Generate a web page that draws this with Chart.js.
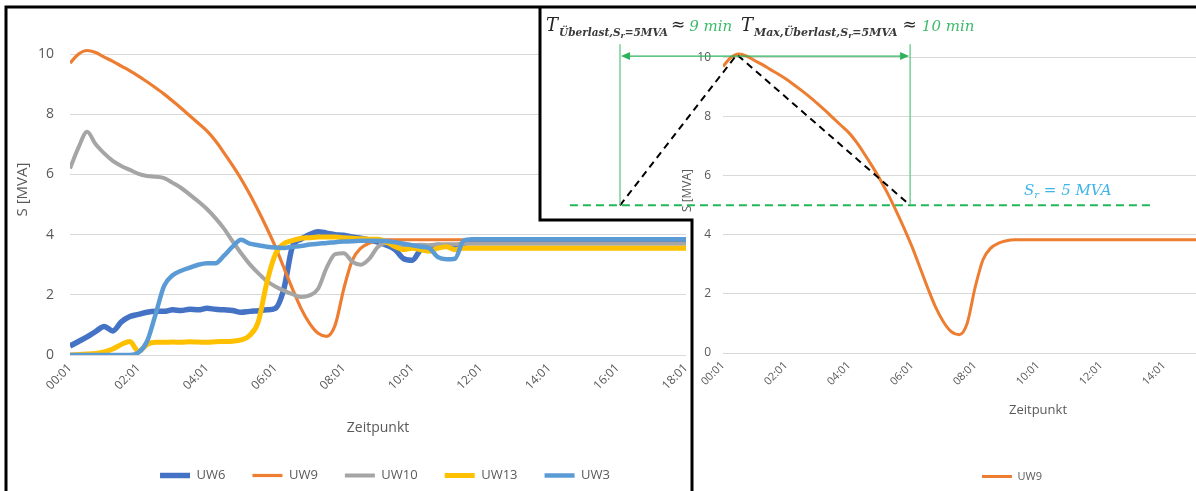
<!DOCTYPE html>
<html lang="de">
<head>
<meta charset="utf-8">
<title>UW Auslastung</title>
<script src="https://cdn.jsdelivr.net/npm/chart.js@4.4.1/dist/chart.umd.min.js"></script>
<style>
  html, body { margin: 0; padding: 0; width: 1196px; height: 491px; overflow: hidden; background: #fff; }
  #rechts { position: absolute; left: 540px; top: 0; z-index: 1; }
  #linksBox {
    position: absolute; left: 5px; top: 6px; width: 688px; height: 486px;
    overflow: hidden; background: #fff; z-index: 2;
    clip-path: polygon(0 0, 535px 0, 535px 214px, 688px 214px, 688px 486px, 0 486px);
  }
  #links { position: absolute; left: 0; top: 0; }
  #rahmen { position: absolute; left: 0; top: 0; z-index: 3; pointer-events: none; }
</style>
</head>
<body>
<canvas id="rechts" width="824" height="492"></canvas>
<div id="linksBox"><canvas id="links" width="760" height="486"></canvas></div>
<svg id="rahmen" width="1196" height="491">
  <path d="M6 491 L6 7 L1196 7 M540 7 L540 220 L692 220 L692 491" fill="none" stroke="#000" stroke-width="3"/>
</svg>
<script>
// Zeitachse (Kategorien), Schritt 0.25
const zeit = [0,0.25,0.5,0.75,1,1.25,1.5,1.75,2,2.25,2.5,2.75,3,3.25,3.5,3.75,
  4,4.25,4.5,4.75,5,5.25,5.5,5.75,6,6.25,6.5,6.75,7,7.25,7.5,7.75,
  8,8.25,8.5,8.75,9,9.25,9.5,9.75,10,10.25,10.5,10.75,11,11.25,11.5,11.75,
  12,12.25,12.5,12.75,13,13.25,13.5,13.75,14,14.25,14.5,14.75,15,15.25,15.5,15.75,
  16,16.25,16.5,16.75,17,17.25,17.5,17.75,18];

// Scheinleistung S [MVA] je Umspannwerk
const uw6 = [
  0.30,0.45,0.60,0.78,0.95,0.80,1.10,1.28,
  1.35,1.42,1.45,1.45,1.50,1.48,1.52,1.50,
  1.55,1.52,1.50,1.48,1.42,1.45,1.47,1.50,
  1.55,2.20,3.60,3.85,4.00,4.10,4.05,4.00,
  3.98,3.92,3.88,3.82,3.75,3.65,3.50,3.20,
  3.15,3.50,3.60,3.65,3.62,3.60,3.70,3.80,
  3.80,3.80,3.80,3.80,3.80,3.80,3.80,3.80,
  3.80,3.80,3.80,3.80,3.80,3.80,3.80,3.80,
  3.80,3.80,3.80,3.80,3.80,3.80,3.80,3.80,
  3.80];
const uw9 = [
  9.70,10.00,10.12,10.05,9.90,9.76,9.60,9.44,
  9.27,9.08,8.88,8.67,8.44,8.20,7.95,7.70,
  7.45,7.12,6.72,6.30,5.85,5.35,4.80,4.22,
  3.60,2.90,2.20,1.55,1.05,0.72,0.62,1.00,
  2.20,3.15,3.55,3.72,3.80,3.83,3.83,3.83,
  3.83,3.83,3.83,3.83,3.83,3.83,3.83,3.83,
  3.83,3.83,3.83,3.83,3.83,3.83,3.83,3.83,
  3.83,3.83,3.83,3.83,3.83,3.83,3.83,3.83,
  3.83,3.83,3.83,3.83,3.83,3.83,3.83,3.83,
  3.83];
const uw10 = [
  6.20,6.90,7.42,7.00,6.70,6.45,6.28,6.15,
  6.02,5.95,5.92,5.88,5.72,5.55,5.33,5.10,
  4.85,4.55,4.20,3.78,3.38,3.02,2.72,2.46,
  2.28,2.14,2.02,1.93,1.98,2.20,2.90,3.35,
  3.38,3.10,3.00,3.20,3.60,3.72,3.68,3.65,
  3.65,3.66,3.65,3.67,3.68,3.68,3.70,3.70,
  3.70,3.70,3.70,3.70,3.70,3.70,3.70,3.70,
  3.70,3.70,3.70,3.70,3.70,3.70,3.70,3.70,
  3.70,3.70,3.70,3.70,3.70,3.70,3.70,3.70,
  3.70];
const uw13 = [
  0.00,0.02,0.03,0.05,0.10,0.20,0.35,0.45,
  0.12,0.35,0.42,0.42,0.43,0.42,0.44,0.43,
  0.42,0.44,0.45,0.46,0.50,0.65,1.10,2.40,
  3.35,3.70,3.80,3.88,3.90,3.92,3.92,3.92,
  3.90,3.88,3.86,3.85,3.85,3.75,3.60,3.50,
  3.55,3.50,3.45,3.55,3.60,3.50,3.55,3.55,
  3.55,3.55,3.55,3.55,3.55,3.55,3.55,3.55,
  3.55,3.55,3.55,3.55,3.55,3.55,3.55,3.55,
  3.55,3.55,3.55,3.55,3.55,3.55,3.55,3.55,
  3.55];
const uw3 = [
  0.00,0.00,0.00,0.00,0.00,0.00,0.00,0.00,
  0.08,0.45,1.35,2.30,2.65,2.80,2.90,3.00,
  3.05,3.05,3.30,3.60,3.83,3.70,3.65,3.60,
  3.57,3.56,3.60,3.62,3.67,3.70,3.72,3.75,
  3.77,3.78,3.80,3.80,3.80,3.78,3.75,3.70,
  3.65,3.60,3.55,3.25,3.18,3.20,3.80,3.85,
  3.85,3.85,3.85,3.85,3.85,3.85,3.85,3.85,
  3.85,3.85,3.85,3.85,3.85,3.85,3.85,3.85,
  3.85,3.85,3.85,3.85,3.85,3.85,3.85,3.85,
  3.85];

// Annotation im rechten Diagramm (Werte in Achseneinheiten)
const srGrenze = 5;
const srLinieVon = -4.86, srLinieBis = 13.56;
const ueberlastStart = -3.27, ueberlastEnde = 5.94;
const spitzeZeit = 0.44, spitzeWert = 10.1;
const pfeilWert = 10.05, markeOben = 10.45;

const grau = '#595959';
const gitter = '#D9D9D9';
Chart.defaults.font.family = "'Open Sans', sans-serif";
Chart.defaults.color = grau;

const punkte = vals => vals.map((v, i) => ({ x: zeit[i], y: v }));
const zeitLabel = v => String(v).padStart(2, '0') + ':01';
const nurBisZehn = s => { s.ticks = s.ticks.filter(t => t.value <= 10); };

function reihe(label, vals, color, width, order) {
  return {
    label, data: punkte(vals), borderColor: color, backgroundColor: color,
    borderWidth: width, pointRadius: 0, cubicInterpolationMode: 'monotone', order
  };
}

// Linkes Diagramm: alle Umspannwerke
new Chart(document.getElementById('links'), {
  type: 'line',
  data: {
    datasets: [
      reihe('UW6', uw6, '#4472C4', 5.5, 4),
      reihe('UW9', uw9, '#ED7D31', 3.2, 3),
      reihe('UW10', uw10, '#A5A5A5', 4, 2),
      reihe('UW13', uw13, '#FFC000', 5, 1),
      reihe('UW3', uw3, '#5B9BD5', 4.5, 0)
    ]
  },
  options: {
    responsive: false,
    animation: false,
    devicePixelRatio: 1,
    layout: { padding: { left: 0, right: 0, top: 18, bottom: 0 } },
    plugins: {
      tooltip: { enabled: false },
      legend: {
        position: 'bottom',
        labels: {
          usePointStyle: true, pointStyle: 'line', pointStyleWidth: 30,
          padding: 27, color: grau, font: { size: 13 },
          sort: (a, b) => a.datasetIndex - b.datasetIndex
        }
      }
    },
    scales: {
      x: {
        type: 'linear', min: 0, max: 18,
        grid: { display: false, drawTicks: false },
        border: { display: false },
        ticks: { stepSize: 2, autoSkip: false, minRotation: 45, maxRotation: 45,
          padding: 6, color: grau, font: { size: 12 }, callback: zeitLabel },
        title: { display: true, text: 'Zeitpunkt', color: grau, font: { size: 14 },
          padding: { top: 0, bottom: 5.5 } },
        afterFit: s => { s.height = 87; s.paddingLeft = 0; s.paddingRight = 0; }
      },
      y: {
        min: 0, max: 11,
        grid: { color: gitter, drawTicks: false },
        border: { display: false },
        ticks: { stepSize: 2, padding: 16, color: grau, font: { size: 14 } },
        afterBuildTicks: nurBisZehn,
        title: { display: true, text: 'S [MVA]', color: grau, font: { size: 15 },
          padding: { top: 9, bottom: 0 } },
        afterFit: s => { s.width = 65; s.paddingTop = 0; s.paddingBottom = 0; }
      },
      rand: {
        type: 'linear', position: 'right',
        grid: { display: false }, border: { display: false }, ticks: { display: false },
        afterFit: s => { s.width = 79; }
      }
    }
  }
});

// Texte mit Indizes zeichnen
function schreibe(ctx, x, y, teile) {
  teile.forEach(t => {
    ctx.font = t.font;
    ctx.fillStyle = t.color;
    x += t.gap || 0;
    ctx.fillText(t.text, x, y + (t.dy || 0));
    x += ctx.measureText(t.text).width;
  });
}

const dunkel = '#262626';
const indexFarbe = '#3A3A3A';
const fT = 'italic 18px "DejaVu Serif"';
const fSub = 'bold italic 11px "DejaVu Serif"';
const fSub1 = 'bold italic 10.5px "DejaVu Serif"';
const fSubSub = 'bold italic 8px "DejaVu Serif"';
const fRel = '17px "DejaVu Serif"';
const fMin = 'italic 15px "DejaVu Serif"';
const hellgruen = '#3DBB6A';

const ueberlastPlugin = {
  id: 'ueberlast',
  afterDraw(chart) {
    const { ctx, scales: { x, y } } = chart;
    const px = v => x.getPixelForValue(v);
    const py = v => y.getPixelForValue(v);
    ctx.save();

    // Grenzlinie S_r = 5 MVA
    ctx.setLineDash([8, 5]);
    ctx.lineWidth = 2;
    ctx.strokeStyle = '#22B859';
    ctx.beginPath();
    ctx.moveTo(px(srLinieVon), py(srGrenze));
    ctx.lineTo(px(srLinieBis), py(srGrenze));
    ctx.stroke();

    // Dreieck (Naeherung Ueberlast)
    ctx.strokeStyle = '#000';
    ctx.setLineDash([7, 5]);
    ctx.beginPath();
    ctx.moveTo(px(ueberlastStart), py(srGrenze));
    ctx.lineTo(px(spitzeZeit), py(spitzeWert));
    ctx.lineTo(px(ueberlastEnde), py(srGrenze));
    ctx.stroke();

    // Markierungen und Doppelpfeil
    ctx.setLineDash([]);
    ctx.lineWidth = 1.3;
    ctx.strokeStyle = '#62C98C';
    ctx.beginPath();
    [ueberlastStart, ueberlastEnde].forEach(t => {
      ctx.moveTo(px(t), py(srGrenze));
      ctx.lineTo(px(t), py(markeOben));
    });
    ctx.stroke();
    const ya = py(pfeilWert), xa = px(ueberlastStart), xb = px(ueberlastEnde);
    ctx.strokeStyle = '#2DB35A';
    ctx.beginPath();
    ctx.moveTo(xa + 4, ya);
    ctx.lineTo(xb - 4, ya);
    ctx.stroke();
    ctx.fillStyle = '#2DB35A';
    ctx.beginPath();
    ctx.moveTo(xa + 1, ya); ctx.lineTo(xa + 10, ya - 4); ctx.lineTo(xa + 10, ya + 4); ctx.closePath();
    ctx.moveTo(xb - 1, ya); ctx.lineTo(xb - 10, ya - 4); ctx.lineTo(xb - 10, ya + 4); ctx.closePath();
    ctx.fill();

    // Beschriftungen
    ctx.textBaseline = 'alphabetic';
    ctx.textAlign = 'left';
    schreibe(ctx, 6, 31, [
      { text: 'T', font: fT, color: dunkel },
      { text: 'Überlast,S', font: fSub1, color: indexFarbe, dy: 5, gap: 1 },
      { text: 'r', font: fSubSub, color: indexFarbe, dy: 7 },
      { text: '=5MVA', font: fSub1, color: indexFarbe, dy: 5 },
      { text: '≈', font: fRel, color: dunkel, gap: 3, dy: -1 },
      { text: '9 min', font: fMin, color: hellgruen, gap: 4 }
    ]);
    schreibe(ctx, 201, 31, [
      { text: 'T', font: fT, color: dunkel },
      { text: 'Max,Überlast,S', font: fSub, color: indexFarbe, dy: 5, gap: 1 },
      { text: 'r', font: fSubSub, color: indexFarbe, dy: 7 },
      { text: '=5MVA', font: fSub, color: indexFarbe, dy: 5 },
      { text: '≈', font: fRel, color: dunkel, gap: 5, dy: -1 },
      { text: '10 min', font: fMin, color: hellgruen, gap: 5 }
    ]);
    schreibe(ctx, 484, 195, [
      { text: 'S', font: 'italic 15px "DejaVu Serif"', color: '#3FB4E8' },
      { text: 'r', font: 'italic 10px "DejaVu Serif"', color: '#3FB4E8', dy: 3 },
      { text: ' = 5 MVA', font: 'italic 15px "DejaVu Serif"', color: '#3FB4E8' }
    ]);
    ctx.restore();
  }
};

// Rechtes Diagramm: UW9 mit Ueberlast-Markierung
new Chart(document.getElementById('rechts'), {
  type: 'line',
  data: { datasets: [reihe('UW9', uw9, '#ED7D31', 3, 0)] },
  options: {
    responsive: false,
    animation: false,
    devicePixelRatio: 1,
    layout: { padding: { left: 131, right: 11, top: 28, bottom: 0 } },
    plugins: {
      tooltip: { enabled: false },
      legend: {
        position: 'bottom',
        labels: { usePointStyle: true, pointStyle: 'line', pointStyleWidth: 30,
          padding: 10, color: grau, font: { size: 11 } }
      }
    },
    scales: {
      x: {
        type: 'linear', min: 0, max: 20,
        grid: { display: false, drawTicks: false },
        border: { display: false },
        ticks: { stepSize: 2, autoSkip: false, minRotation: 45, maxRotation: 45,
          padding: 6, color: grau, font: { size: 11 }, callback: zeitLabel },
        title: { display: true, text: 'Zeitpunkt', color: grau, font: { size: 13 },
          padding: { top: 0, bottom: 43 } },
        afterFit: s => { s.height = 108; s.paddingLeft = 0; s.paddingRight = 0; }
      },
      y: {
        min: 0, max: 11,
        grid: { color: gitter, drawTicks: false },
        border: { display: false },
        ticks: { stepSize: 2, padding: 12, color: grau, font: { size: 12 } },
        afterBuildTicks: nurBisZehn,
        title: { display: true, text: 'S [MVA]', color: grau, font: { size: 12 },
          padding: { top: 9, bottom: 0 } },
        afterFit: s => { s.width = 52; s.paddingTop = 0; s.paddingBottom = 0; }
      }
    }
  },
  plugins: [ueberlastPlugin]
});
</script>
</body>
</html>
